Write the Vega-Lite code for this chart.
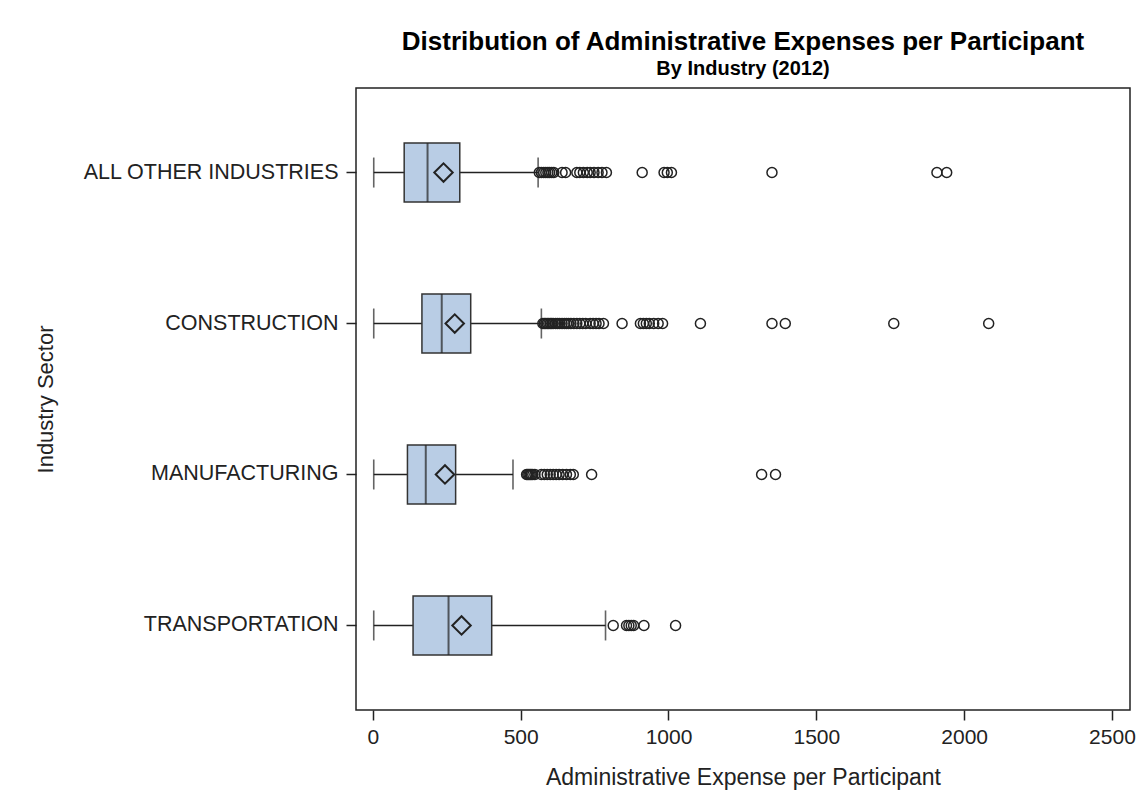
{
  "$schema": "https://vega.github.io/schema/vega-lite/v6.json",
  "width": 774,
  "height": 622,
  "autosize": {"type": "none"},
  "padding": {"left": 356, "top": 88, "right": 10, "bottom": 96},
  "background": "white",
  "title": {
    "text": "Distribution of Administrative Expenses per Participant",
    "subtitle": "By Industry (2012)",
    "font": "Liberation Sans",
    "fontSize": 26,
    "fontWeight": "bold",
    "color": "#000000",
    "subtitleFont": "Liberation Sans",
    "subtitleFontSize": 20,
    "subtitleFontWeight": "bold",
    "subtitleColor": "#000000",
    "subtitlePadding": 4,
    "anchor": "middle",
    "offset": 9
  },
  "config": {
    "view": {"stroke": "#222222", "strokeWidth": 1.5},
    "axis": {
      "labelFont": "Liberation Sans",
      "titleFont": "Liberation Sans",
      "labelFontSize": 21,
      "titleFontSize": 22,
      "titleFontWeight": "normal",
      "labelColor": "#222222",
      "titleColor": "#222222",
      "tickColor": "#222222",
      "tickWidth": 1.5,
      "tickSize": 10,
      "domain": false,
      "grid": false
    }
  },
  "datasets": {
    "stats": [
      {"sector": "ALL OTHER INDUSTRIES", "min": 3, "q1": 106, "median": 185, "q3": 294, "max": 559, "mean": 239},
      {"sector": "CONSTRUCTION", "min": 3, "q1": 166, "median": 233, "q3": 331, "max": 570, "mean": 277},
      {"sector": "MANUFACTURING", "min": 3, "q1": 117, "median": 179, "q3": 280, "max": 474, "mean": 244},
      {"sector": "TRANSPORTATION", "min": 3, "q1": 136, "median": 256, "q3": 402, "max": 787, "mean": 300}
    ],
    "outliers": [
      {"sector": "ALL OTHER INDUSTRIES", "value": 563},
      {"sector": "ALL OTHER INDUSTRIES", "value": 570},
      {"sector": "ALL OTHER INDUSTRIES", "value": 578},
      {"sector": "ALL OTHER INDUSTRIES", "value": 585},
      {"sector": "ALL OTHER INDUSTRIES", "value": 592},
      {"sector": "ALL OTHER INDUSTRIES", "value": 598},
      {"sector": "ALL OTHER INDUSTRIES", "value": 605},
      {"sector": "ALL OTHER INDUSTRIES", "value": 612},
      {"sector": "ALL OTHER INDUSTRIES", "value": 640},
      {"sector": "ALL OTHER INDUSTRIES", "value": 652},
      {"sector": "ALL OTHER INDUSTRIES", "value": 690},
      {"sector": "ALL OTHER INDUSTRIES", "value": 700},
      {"sector": "ALL OTHER INDUSTRIES", "value": 712},
      {"sector": "ALL OTHER INDUSTRIES", "value": 725},
      {"sector": "ALL OTHER INDUSTRIES", "value": 735},
      {"sector": "ALL OTHER INDUSTRIES", "value": 748},
      {"sector": "ALL OTHER INDUSTRIES", "value": 762},
      {"sector": "ALL OTHER INDUSTRIES", "value": 775},
      {"sector": "ALL OTHER INDUSTRIES", "value": 790},
      {"sector": "ALL OTHER INDUSTRIES", "value": 911},
      {"sector": "ALL OTHER INDUSTRIES", "value": 985},
      {"sector": "ALL OTHER INDUSTRIES", "value": 996},
      {"sector": "ALL OTHER INDUSTRIES", "value": 1010},
      {"sector": "ALL OTHER INDUSTRIES", "value": 1350},
      {"sector": "ALL OTHER INDUSTRIES", "value": 1908},
      {"sector": "ALL OTHER INDUSTRIES", "value": 1941},
      {"sector": "CONSTRUCTION", "value": 575},
      {"sector": "CONSTRUCTION", "value": 580},
      {"sector": "CONSTRUCTION", "value": 585},
      {"sector": "CONSTRUCTION", "value": 590},
      {"sector": "CONSTRUCTION", "value": 595},
      {"sector": "CONSTRUCTION", "value": 600},
      {"sector": "CONSTRUCTION", "value": 605},
      {"sector": "CONSTRUCTION", "value": 610},
      {"sector": "CONSTRUCTION", "value": 618},
      {"sector": "CONSTRUCTION", "value": 625},
      {"sector": "CONSTRUCTION", "value": 632},
      {"sector": "CONSTRUCTION", "value": 640},
      {"sector": "CONSTRUCTION", "value": 648},
      {"sector": "CONSTRUCTION", "value": 655},
      {"sector": "CONSTRUCTION", "value": 662},
      {"sector": "CONSTRUCTION", "value": 670},
      {"sector": "CONSTRUCTION", "value": 680},
      {"sector": "CONSTRUCTION", "value": 690},
      {"sector": "CONSTRUCTION", "value": 700},
      {"sector": "CONSTRUCTION", "value": 710},
      {"sector": "CONSTRUCTION", "value": 720},
      {"sector": "CONSTRUCTION", "value": 735},
      {"sector": "CONSTRUCTION", "value": 745},
      {"sector": "CONSTRUCTION", "value": 755},
      {"sector": "CONSTRUCTION", "value": 765},
      {"sector": "CONSTRUCTION", "value": 780},
      {"sector": "CONSTRUCTION", "value": 843},
      {"sector": "CONSTRUCTION", "value": 905},
      {"sector": "CONSTRUCTION", "value": 915},
      {"sector": "CONSTRUCTION", "value": 925},
      {"sector": "CONSTRUCTION", "value": 935},
      {"sector": "CONSTRUCTION", "value": 950},
      {"sector": "CONSTRUCTION", "value": 965},
      {"sector": "CONSTRUCTION", "value": 980},
      {"sector": "CONSTRUCTION", "value": 1108},
      {"sector": "CONSTRUCTION", "value": 1350},
      {"sector": "CONSTRUCTION", "value": 1395},
      {"sector": "CONSTRUCTION", "value": 1762},
      {"sector": "CONSTRUCTION", "value": 2083},
      {"sector": "MANUFACTURING", "value": 520},
      {"sector": "MANUFACTURING", "value": 524},
      {"sector": "MANUFACTURING", "value": 528},
      {"sector": "MANUFACTURING", "value": 532},
      {"sector": "MANUFACTURING", "value": 536},
      {"sector": "MANUFACTURING", "value": 541},
      {"sector": "MANUFACTURING", "value": 548},
      {"sector": "MANUFACTURING", "value": 570},
      {"sector": "MANUFACTURING", "value": 580},
      {"sector": "MANUFACTURING", "value": 590},
      {"sector": "MANUFACTURING", "value": 600},
      {"sector": "MANUFACTURING", "value": 610},
      {"sector": "MANUFACTURING", "value": 620},
      {"sector": "MANUFACTURING", "value": 630},
      {"sector": "MANUFACTURING", "value": 642},
      {"sector": "MANUFACTURING", "value": 655},
      {"sector": "MANUFACTURING", "value": 668},
      {"sector": "MANUFACTURING", "value": 678},
      {"sector": "MANUFACTURING", "value": 740},
      {"sector": "MANUFACTURING", "value": 1315},
      {"sector": "MANUFACTURING", "value": 1362},
      {"sector": "TRANSPORTATION", "value": 813},
      {"sector": "TRANSPORTATION", "value": 858},
      {"sector": "TRANSPORTATION", "value": 866},
      {"sector": "TRANSPORTATION", "value": 874},
      {"sector": "TRANSPORTATION", "value": 882},
      {"sector": "TRANSPORTATION", "value": 917},
      {"sector": "TRANSPORTATION", "value": 1024}
    ]
  },
  "encoding": {
    "y": {
      "field": "sector",
      "type": "nominal",
      "sort": ["ALL OTHER INDUSTRIES", "CONSTRUCTION", "MANUFACTURING", "TRANSPORTATION"],
      "scale": {"paddingInner": 0.61, "paddingOuter": 0.365},
      "axis": {"title": "Industry Sector", "labelPadding": 8, "labelLimit": 0, "labelFontSize": 21.5, "titleX": -304, "titleY": 311, "titleBaseline": "alphabetic", "titleAngle": -90}
    }
  },
  "layer": [
    {
      "data": {"name": "stats"},
      "mark": {"type": "rule", "color": "#222222", "strokeWidth": 1.6},
      "encoding": {
        "x": {
          "field": "min", "type": "quantitative",
          "scale": {"domain": [-57, 2561], "nice": false, "zero": false},
          "axis": {"title": "Administrative Expense per Participant", "values": [0, 500, 1000, 1500, 2000, 2500], "format": "d", "labelPadding": 6, "titleFontSize": 23, "titleBaseline": "alphabetic", "titleY": 74}
        },
        "x2": {"field": "max"}
      }
    },
    {
      "data": {"name": "stats"},
      "mark": {"type": "tick", "color": "#222222", "thickness": 1.6, "size": 30, "orient": "vertical"},
      "encoding": {"x": {"field": "min", "type": "quantitative"}}
    },
    {
      "data": {"name": "stats"},
      "mark": {"type": "tick", "color": "#222222", "thickness": 1.6, "size": 30, "orient": "vertical"},
      "encoding": {"x": {"field": "max", "type": "quantitative"}}
    },
    {
      "data": {"name": "stats"},
      "mark": {"type": "bar", "fill": "#b9cde5", "stroke": "#333333", "strokeWidth": 1.5},
      "encoding": {"x": {"field": "q1", "type": "quantitative"}, "x2": {"field": "q3"}}
    },
    {
      "data": {"name": "stats"},
      "mark": {"type": "tick", "color": "#222222", "thickness": 2, "size": 59, "orient": "vertical"},
      "encoding": {"x": {"field": "median", "type": "quantitative"}}
    },
    {
      "data": {"name": "stats"},
      "mark": {"type": "point", "shape": "diamond", "filled": false, "size": 340, "stroke": "#222222", "strokeWidth": 2, "opacity": 1},
      "encoding": {"x": {"field": "mean", "type": "quantitative"}}
    },
    {
      "data": {"name": "outliers"},
      "mark": {"type": "point", "shape": "circle", "filled": false, "size": 100, "stroke": "#222222", "strokeWidth": 1.5, "opacity": 1},
      "encoding": {"x": {"field": "value", "type": "quantitative"}}
    }
  ]
}
